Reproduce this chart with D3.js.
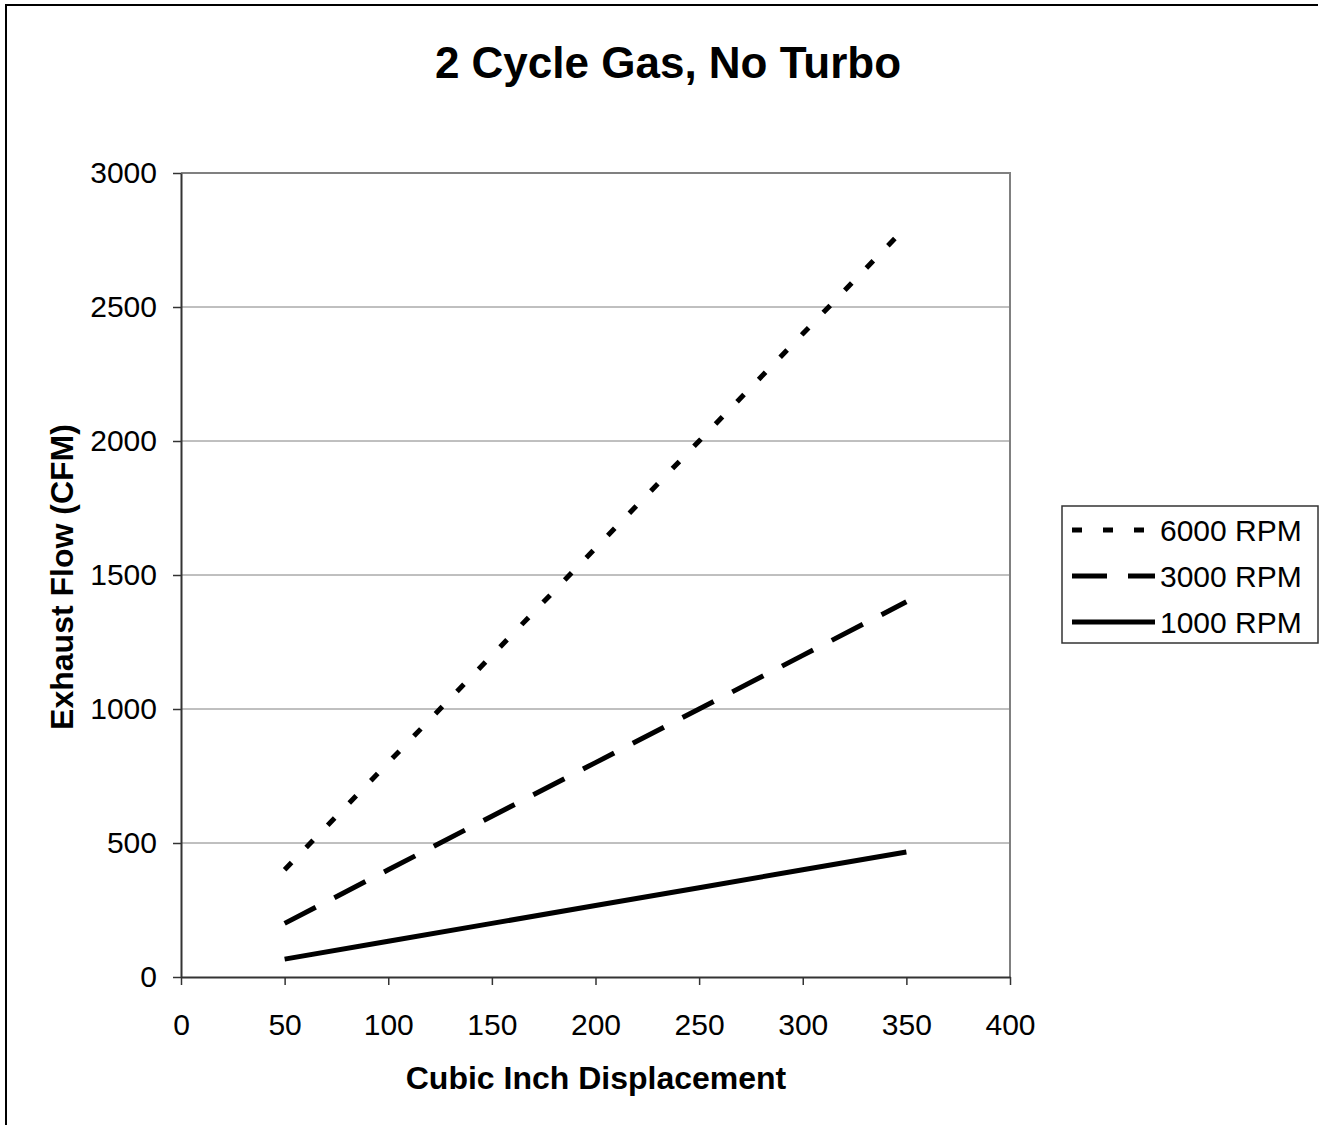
<!DOCTYPE html>
<html>
<head>
<meta charset="utf-8">
<script src="https://cdn.jsdelivr.net/npm/d3@7"></script>
<style>
  body { margin: 0; background: #fff; }
  svg { display: block; font-family: "Liberation Sans", Arial, sans-serif; }
</style>
</head>
<body>
<svg id="chart" width="1327" height="1125"></svg>
<script>
// chart values
let displacement = [50, 100, 150, 200, 250, 300, 350];
let rpm6000 = [400, 800, 1200, 1600, 2000, 2400, 2800];
let rpm3000 = [200, 400, 600, 800, 1000, 1200, 1400];
let rpm1000 = [66.7, 133.3, 200, 266.7, 333.3, 400, 466.7];
let seriesNames = ['6000 RPM', '3000 RPM', '1000 RPM'];
let xTicks = [0, 50, 100, 150, 200, 250, 300, 350, 400];
let yTicks = [0, 500, 1000, 1500, 2000, 2500, 3000];

let series = [
    {name: seriesNames[0], values: rpm6000, dash: '10,21'},
    {name: seriesNames[1], values: rpm3000, dash: '35,21'},
    {name: seriesNames[2], values: rpm1000, dash: null}
];

let svg = d3.select('#chart');

// outer frame (only top and left edges show)
svg.append('path')
    .attr('d', 'M6,1125V5H1318')
    .attr('fill', 'none')
    .attr('stroke', '#000')
    .attr('stroke-width', 2);

let plotLeft = 181, plotRight = 1010, plotTop = 173, plotBottom = 977;

let x = d3.scaleLinear().domain([0, 400]).range([plotLeft, plotRight]);
let y = d3.scaleLinear().domain([0, 3000]).range([plotBottom, plotTop]);

// gridlines
svg.append('g')
    .selectAll('line')
    .data(yTicks.filter(d => d > 0))
    .enter()
    .append('line')
    .attr('x1', plotLeft).attr('x2', plotRight)
    .attr('y1', d => y(d)).attr('y2', d => y(d))
    .attr('stroke', '#808080')
    .attr('stroke-width', 1);

// plot border top/right
svg.append('path')
    .attr('d', `M${plotLeft},${plotTop}H${plotRight}V${plotBottom}`)
    .attr('fill', 'none')
    .attr('stroke', '#808080')
    .attr('stroke-width', 2);

// axes
let xAxis = d3.axisBottom(x).tickValues(xTicks).tickFormat(d3.format('d'))
    .tickSizeInner(8).tickSizeOuter(0).tickPadding(29);
let yAxis = d3.axisLeft(y).tickValues(yTicks).tickFormat(d3.format('d'))
    .tickSizeInner(8).tickSizeOuter(0).tickPadding(16);

let gx = svg.append('g').attr('transform', `translate(0,${plotBottom})`).call(xAxis);
let gy = svg.append('g').attr('transform', `translate(${plotLeft},0)`).call(yAxis);

[gx, gy].forEach(g => {
    g.select('.domain').attr('stroke', '#333').attr('stroke-width', 2);
    g.selectAll('.tick line').attr('stroke', '#333').attr('stroke-width', 1.5);
    g.selectAll('.tick text')
        .attr('fill', '#000')
        .style('font-size', '30px')
        .style('font-family', '"Liberation Sans", Arial, sans-serif');
});

// series lines
let line = d3.line()
    .x((d, i) => x(displacement[i]))
    .y(d => y(d));

series.forEach(s => {
    svg.append('path')
        .datum(s.values)
        .attr('d', line)
        .attr('fill', 'none')
        .attr('stroke', '#000')
        .attr('stroke-width', 5)
        .attr('stroke-dasharray', s.dash);
});

// titles
svg.append('text')
    .attr('x', 668).attr('y', 78)
    .attr('text-anchor', 'middle')
    .style('font-weight', 'bold')
    .style('font-size', '44px')
    .text('2 Cycle Gas, No Turbo');

svg.append('text')
    .attr('x', 596).attr('y', 1089)
    .attr('text-anchor', 'middle')
    .style('font-weight', 'bold')
    .style('font-size', '32px')
    .text('Cubic Inch Displacement');

svg.append('text')
    .attr('transform', 'translate(73,577) rotate(-90)')
    .attr('text-anchor', 'middle')
    .style('font-weight', 'bold')
    .style('font-size', '32px')
    .text('Exhaust Flow (CFM)');

// legend
let legend = svg.append('g');
legend.append('rect')
    .attr('x', 1062).attr('y', 506)
    .attr('width', 256).attr('height', 137)
    .attr('fill', '#fff')
    .attr('stroke', '#333')
    .attr('stroke-width', 1.5);

let rows = legend.selectAll('g.row')
    .data(series)
    .enter()
    .append('g')
    .attr('class', 'row')
    .attr('transform', (d, i) => `translate(0,${530 + i * 46})`);

rows.append('line')
    .attr('x1', 1072).attr('x2', 1155)
    .attr('y1', 0).attr('y2', 0)
    .attr('stroke', '#000')
    .attr('stroke-width', 5)
    .attr('stroke-dasharray', d => d.dash);

rows.append('text')
    .attr('x', 1160).attr('y', 0)
    .attr('dy', '0.36em')
    .style('font-size', '30px')
    .text(d => d.name);
</script>
</body>
</html>
